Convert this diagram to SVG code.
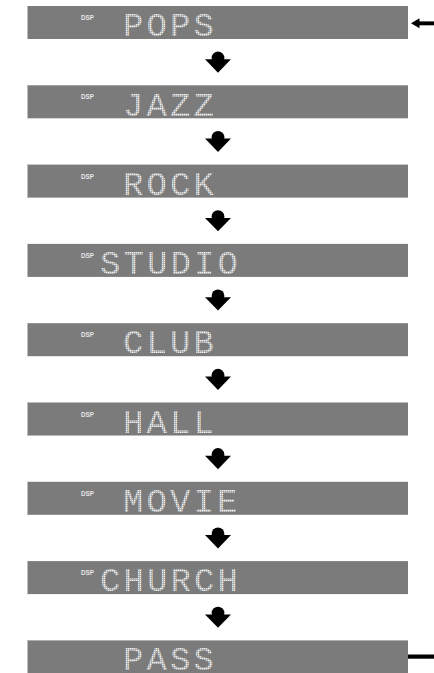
<svg xmlns="http://www.w3.org/2000/svg" width="434" height="673" viewBox="0 0 434 673">
<style>
.bar{fill:#7b7b7b}
.edge{fill:#bdbdbd}
.dsp{font-family:"Liberation Sans",Arial,sans-serif;font-weight:bold;font-size:6.3px;fill:#e6e6e6}
.lcd{font-family:"Liberation Mono","DejaVu Sans Mono",monospace;font-size:34px;letter-spacing:3.1px;fill:url(#dots)}
.arr{fill:#000}
</style>
<defs>
<pattern id="dots" width="2" height="2" patternUnits="userSpaceOnUse">
<rect width="2" height="2" fill="#9a9a9a"/>
<rect width="1.4" height="1.4" fill="#f2f2f2"/>
</pattern>
<g id="down">
<path d="M-13,0 L13,0 L0,13.4 Z"/>
<circle cx="0" cy="-1.3" r="6.4"/>
</g>
</defs>
<g id="pops"><rect class="bar" x="27" y="6" width="381" height="33"/><rect class="edge" x="27" y="6" width="1" height="33"/><text class="dsp" x="81" y="20">DSP</text><text class="lcd" x="123" y="36">POPS</text></g>
<g id="jazz"><rect class="bar" x="27" y="85.3" width="381" height="33"/><rect class="edge" x="27" y="85.3" width="1" height="33"/><text class="dsp" x="81" y="99.3">DSP</text><text class="lcd" x="123" y="115.5">JAZZ</text></g>
<g id="rock"><rect class="bar" x="27" y="164.6" width="381" height="33"/><rect class="edge" x="27" y="164.6" width="1" height="33"/><text class="dsp" x="81" y="178.6">DSP</text><text class="lcd" x="123" y="194.8">ROCK</text></g>
<g id="studio"><rect class="bar" x="27" y="243.9" width="381" height="33"/><rect class="edge" x="27" y="243.9" width="1" height="33"/><text class="dsp" x="81" y="257.9">DSP</text><text class="lcd" x="100" y="274.1">STUDIO</text></g>
<g id="club"><rect class="bar" x="27" y="323.2" width="381" height="33"/><rect class="edge" x="27" y="323.2" width="1" height="33"/><text class="dsp" x="81" y="337.2">DSP</text><text class="lcd" x="123" y="353.4">CLUB</text></g>
<g id="hall"><rect class="bar" x="27" y="402.5" width="381" height="33"/><rect class="edge" x="27" y="402.5" width="1" height="33"/><text class="dsp" x="81" y="416.5">DSP</text><text class="lcd" x="123" y="432.7">HALL</text></g>
<g id="movie"><rect class="bar" x="27" y="481.8" width="381" height="33"/><rect class="edge" x="27" y="481.8" width="1" height="33"/><text class="dsp" x="81" y="495.8">DSP</text><text class="lcd" x="123" y="512">MOVIE</text></g>
<g id="church"><rect class="bar" x="27" y="561.1" width="381" height="33"/><rect class="edge" x="27" y="561.1" width="1" height="33"/><text class="dsp" x="81" y="575.1">DSP</text><text class="lcd" x="100" y="591.3">CHURCH</text></g>
<g id="pass"><rect class="bar" x="27" y="640.4" width="381" height="33"/><rect class="edge" x="27" y="640.4" width="1" height="33"/><text class="lcd" x="123" y="670.4">PASS</text></g>
<g id="connectors" class="arr">
<use href="#down" x="218" y="59.3"/>
<use href="#down" x="218" y="138.6"/>
<use href="#down" x="218" y="217.9"/>
<use href="#down" x="218" y="297.2"/>
<use href="#down" x="218" y="376.5"/>
<use href="#down" x="218" y="455.8"/>
<use href="#down" x="218" y="535.1"/>
<use href="#down" x="218" y="614.4"/>
<path d="M411,23.3 L419.5,18.3 L419.5,28.3 Z"/>
<rect x="418" y="21.4" width="16" height="3.9"/>
<rect x="408" y="654.5" width="26" height="4.2"/>
</g>
</svg>
